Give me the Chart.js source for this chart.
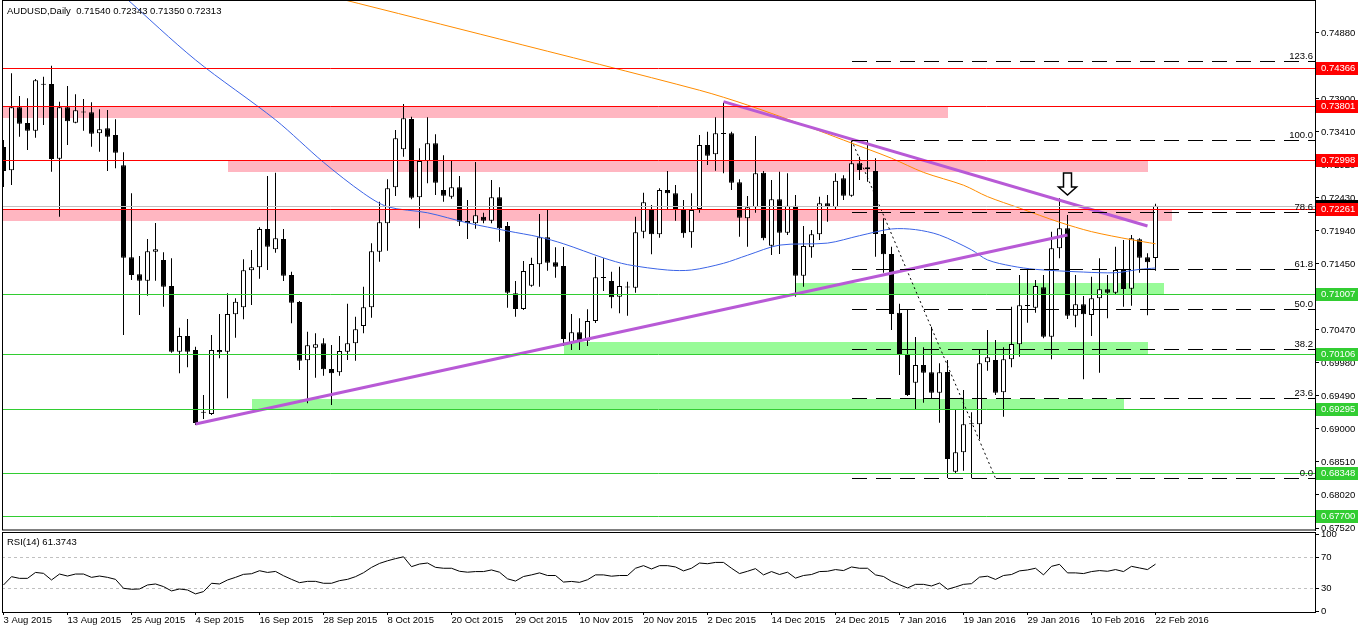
<!DOCTYPE html>
<html><head><meta charset="utf-8">
<script src="https://cdn.jsdelivr.net/npm/chart.js@4.4.1/dist/chart.umd.min.js"></script>
<style>
body{margin:0;background:#fff;width:1358px;height:633px;overflow:hidden;position:relative}
#main{position:absolute;left:0;top:0}
#rsi{position:absolute;left:0;top:526px}
</style></head><body>
<canvas id="main" width="1358" height="531"></canvas>
<canvas id="rsi" width="1358" height="107"></canvas>
<script>
// ---------- DATA ----------
const titleText = "AUDUSD,Daily  0.71540 0.72343 0.71350 0.72313";
const rsiTitle = "RSI(14) 61.3743";
const dateLabels = ["3 Aug 2015","13 Aug 2015","25 Aug 2015","4 Sep 2015","16 Sep 2015","28 Sep 2015","8 Oct 2015","20 Oct 2015","29 Oct 2015","10 Nov 2015","20 Nov 2015","2 Dec 2015","14 Dec 2015","24 Dec 2015","7 Jan 2016","19 Jan 2016","29 Jan 2016","10 Feb 2016","22 Feb 2016"];
const dateLabelIdx = [0,8,16,24,32,40,48,56,64,72,80,88,96,104,112,120,128,136,144];
const priceTicks = [0.74880,0.74390,0.73900,0.73410,0.72920,0.72430,0.71940,0.71450,0.70960,0.70470,0.69980,0.69490,0.69000,0.68510,0.68020,0.67520];
const rsiTicks = [0,30,70,100];

const opens = [0.73187,0.72841,0.73777,0.73543,0.73429,0.74128,0.74123,0.73013,0.73777,0.73548,
0.73712,0.73702,0.73390,0.73465,0.73365,0.72915,0.71549,0.71296,0.71202,0.71632,
0.71509,0.71123,0.70147,0.70380,0.70173,0.69247,0.69222,0.70173,0.70147,0.70703,
0.70807,0.71356,0.71401,0.71969,0.71668,0.71821,0.71286,0.70885,0.70019,0.70207,
0.70272,0.69890,0.69842,0.70147,0.70272,0.70529,0.70807,0.71633,0.72054,0.72589,
0.73153,0.73603,0.72440,0.72979,0.73242,0.72548,0.72449,0.72588,0.72088,0.72054,
0.72153,0.72093,0.72440,0.72014,0.71014,0.70781,0.71128,0.71445,0.71846,0.71475,
0.71420,0.70272,0.70435,0.70311,0.70603,0.71242,0.71197,0.70964,0.71104,0.71098,
0.71930,0.72267,0.71891,0.72549,0.72499,0.72252,0.71920,0.72267,0.73217,0.73078,
0.73390,0.73390,0.72663,0.72128,0.72292,0.72806,0.71719,0.72410,0.71915,0.72316,
0.71276,0.71697,0.71890,0.72351,0.72292,0.72722,0.72464,0.72945,0.72856,0.72831,
0.71895,0.71598,0.70727,0.70098,0.69687,0.69950,0.69841,0.69538,0.69846,0.68366,
0.68653,0.69079,0.69069,0.69990,0.70024,0.69544,0.70034,0.70257,0.70836,0.70801,
0.71104,0.70370,0.71683,0.71980,0.70682,0.70851,0.70692,0.70940,0.71074,0.71024,
0.71360,0.71083,0.71816,0.71549,0.71540];
const highs = [0.73291,0.74282,0.73944,0.73910,0.74197,0.74231,0.74395,0.73860,0.74093,0.73970,
0.73900,0.73851,0.73747,0.73737,0.73598,0.73108,0.72500,0.71568,0.71821,0.72058,
0.71623,0.71534,0.70504,0.70633,0.70222,0.69504,0.70395,0.70707,0.71014,0.70940,
0.71519,0.71658,0.71995,0.72756,0.72806,0.71969,0.71335,0.70900,0.70444,0.70420,
0.70346,0.70247,0.70380,0.70860,0.70667,0.71113,0.71757,0.72375,0.72707,0.73440,
0.73826,0.73637,0.73168,0.73628,0.73376,0.73064,0.72979,0.72756,0.72400,0.72964,
0.72212,0.72697,0.72588,0.72073,0.71197,0.71494,0.71543,0.72192,0.72252,0.71697,
0.71702,0.70707,0.70643,0.70777,0.71559,0.71534,0.71336,0.71410,0.71187,0.72152,
0.72509,0.72326,0.72574,0.72831,0.72623,0.72400,0.72499,0.73366,0.73415,0.73628,
0.73845,0.73415,0.72707,0.72460,0.73350,0.72831,0.72697,0.72820,0.72796,0.72474,
0.72014,0.71955,0.72449,0.72474,0.72796,0.72766,0.73301,0.73043,0.73291,0.73019,
0.72128,0.71707,0.70860,0.70777,0.70366,0.70212,0.70519,0.69975,0.70024,0.69281,
0.69579,0.69247,0.70173,0.70470,0.70321,0.70212,0.70816,0.71286,0.71386,0.71212,
0.71286,0.71929,0.72425,0.72177,0.71286,0.70974,0.71262,0.71534,0.71286,0.71707,
0.71806,0.71880,0.71831,0.71608,0.72343];
const lows = [0.72593,0.72623,0.73340,0.73143,0.73325,0.73514,0.72820,0.72152,0.73217,0.73539,
0.73429,0.73192,0.73117,0.72831,0.72871,0.70395,0.71212,0.70692,0.70979,0.71202,
0.70816,0.70133,0.69827,0.69916,0.69059,0.69148,0.69207,0.70049,0.69455,0.70355,
0.70628,0.70841,0.71232,0.71361,0.71618,0.71197,0.70569,0.69876,0.69381,0.69761,
0.69791,0.69356,0.69791,0.70024,0.70014,0.70420,0.70652,0.71484,0.71647,0.72459,
0.73043,0.72410,0.71980,0.72648,0.72474,0.72375,0.72420,0.72014,0.71821,0.71974,
0.72054,0.72054,0.71781,0.70801,0.70667,0.70766,0.71113,0.71113,0.71351,0.71247,
0.70232,0.70173,0.70173,0.70232,0.70573,0.71049,0.70791,0.70717,0.70682,0.71024,
0.71831,0.71593,0.71841,0.72267,0.72093,0.71841,0.71692,0.72212,0.72920,0.72836,
0.72796,0.72548,0.71855,0.71707,0.72212,0.71801,0.71584,0.71598,0.71880,0.70964,
0.71113,0.71543,0.71806,0.72078,0.72267,0.72400,0.72449,0.72697,0.72672,0.71559,
0.71321,0.70470,0.69801,0.69490,0.69281,0.69390,0.69460,0.69093,0.68272,0.68342,
0.68380,0.68267,0.68850,0.69865,0.69504,0.69182,0.69915,0.70073,0.70578,0.70727,
0.70346,0.70034,0.71534,0.70633,0.70510,0.69737,0.70380,0.69836,0.70643,0.70990,
0.70816,0.70830,0.71321,0.70687,0.71350];
const closes = [0.72831,0.73777,0.73533,0.73429,0.74178,0.74113,0.73009,0.73777,0.73569,0.73732,
0.73700,0.73385,0.73450,0.73340,0.73102,0.71543,0.71286,0.71202,0.71638,0.71668,
0.71113,0.70147,0.70380,0.70147,0.69089,0.69242,0.70173,0.70138,0.70707,0.70890,
0.71356,0.71401,0.71969,0.71707,0.71831,0.71276,0.70875,0.70014,0.70242,0.70257,
0.69886,0.69826,0.70158,0.70272,0.70480,0.70807,0.71638,0.72069,0.72574,0.73316,
0.73613,0.72434,0.72979,0.73242,0.72657,0.72464,0.72588,0.72078,0.72054,0.72173,
0.72093,0.72440,0.71980,0.71024,0.70781,0.71346,0.71450,0.71846,0.71469,0.71410,
0.70336,0.70435,0.70311,0.70603,0.71252,0.71252,0.70955,0.71123,0.71100,0.71920,
0.72366,0.71891,0.72549,0.72499,0.72252,0.71905,0.72252,0.73217,0.73058,0.73390,
0.73380,0.72657,0.72137,0.72292,0.72796,0.71831,0.72410,0.71915,0.72316,0.71276,
0.71717,0.71890,0.72351,0.72301,0.72687,0.72464,0.72945,0.72846,0.72885,0.71895,
0.71593,0.70707,0.70113,0.69504,0.69950,0.69836,0.69538,0.69841,0.68554,0.68653,
0.69069,0.69069,0.69975,0.70064,0.69538,0.70034,0.70262,0.70836,0.70826,0.71123,
0.70370,0.71683,0.71980,0.70682,0.70851,0.70703,0.70940,0.71074,0.71024,0.71360,
0.71078,0.71831,0.71543,0.71475,0.72313];
const rsiValues = [34.3,45.1,42.9,42.9,50.6,49.4,40.8,48.5,45.9,48.5,
48.5,44.2,45.9,44.2,41.6,30.0,28.7,29.1,34.3,35.6,
32.2,26.6,29.1,27.8,22.7,25.7,36.5,35.6,40.8,44.2,
48.1,48.9,52.8,50.6,51.9,46.3,41.6,37.3,39.0,39.0,
36.5,36.5,39.9,41.6,45.1,50.2,57.1,62.3,65.7,68.5,
70.9,58.1,61.5,62.8,57.2,56.0,56.0,52.1,50.9,51.7,
51.7,53.8,50.9,42.3,39.4,45.3,47.4,50.0,46.6,46.6,
38.1,38.9,37.7,41.1,47.4,47.4,45.7,46.6,46.6,56.0,
59.4,55.1,59.4,59.4,57.7,52.6,56.0,62.8,61.9,63.6,
63.6,56.0,49.1,52.1,55.5,47.4,51.7,47.9,50.9,43.2,
46.6,47.9,51.7,52.1,54.3,53.0,57.7,56.0,56.0,47.4,
45.3,38.9,34.7,30.4,35.1,35.1,33.0,36.8,28.7,31.7,
35.1,36.0,44.5,45.7,41.5,46.6,47.9,52.6,53.8,56.0,
47.4,58.5,61.1,50.0,50.0,49.1,51.7,53.0,52.1,54.3,
51.7,58.5,56.4,54.3,61.37];

// moving averages (read at sample candles)
const maBlueIdx = [15,24,34,40,45,48,53,58,63,67,70,75,78,83,86,90,93,97,103,107,111,114,117,121,123,126,129,135,139,142,144];
const maBlueVal = [0.7543,0.7448,0.7359,0.7296,0.7250,0.7230,0.7221,0.7206,0.7194,0.7185,0.7175,0.7154,0.7144,0.7136,0.7136,0.7146,0.7158,0.7173,0.7176,0.7187,0.7197,0.7196,0.7188,0.7166,0.7151,0.7142,0.7137,0.7133,0.7132,0.7137,0.7139];
const maOrangeIdx = [42,62,87,93,101,105,111,115,120,123,127,132,136,141,144];
const maOrangeVal = [0.7539,0.7479,0.7403,0.7381,0.7347,0.7329,0.7302,0.7281,0.7262,0.7245,0.7228,0.7207,0.7193,0.7181,0.7175];

// trend lines [idx1, price1, idx2, price2]
const trendUp = [24, 0.69074, 133, 0.71880];
const trendDown = [90, 0.73860, 143, 0.72014];
const fibDiagonal = [106, 0.73291, 124, 0.68267];

// horizontal levels
const redLevels = [0.74366, 0.73801, 0.72998, 0.72261];
const greenLevels = [0.71007, 0.70106, 0.69295, 0.68348, 0.67700];
const lastPrice = 0.72313;

// zones
const pinkFrom = [null, 28, null];
const pinkTo = [118, 143, 146];
const pinkTop = [0.73801, 0.72998, 0.72261];
const pinkBottom = [0.73622, 0.72820, 0.72093];
const greenFrom = [99, 70, 31];
const greenTo = [145, 143, 140];
const greenTop = [0.71172, 0.70296, 0.69448];
const greenBottom = [0.71007, 0.70106, 0.69295];

// fibonacci
const fibLabels = ["0.0","23.6","38.2","50.0","61.8","78.6","100.0","123.6"];
const fibPrices = [0.68267,0.69453,0.70186,0.70779,0.71372,0.72216,0.73291,0.74460];
const fibStartIdx = 106;

// arrow marker
const arrowIdx = 133;
const arrowTop = 0.72801;
const arrowTip = 0.72474;

// ---------- CHART ----------
const FONT = "'Liberation Sans', Arial, sans-serif";
Chart.defaults.font.family = FONT;
Chart.defaults.font.size = 9.5;
Chart.defaults.color = '#000';
Chart.defaults.animation = false;

const X_MIN = -0.1875, X_MAX = 163.9375;
const Y_MIN = 0.674995, Y_MAX = 0.7535515;

const idx = opens.map((_, i) => i);
const wickData = idx.map(i => ({x: i, y: [lows[i], highs[i]]}));
const bodyData = idx.map(i => ({x: i, y: [opens[i], closes[i]]}));
const bodyColors = idx.map(i => closes[i] >= opens[i] ? '#ffffff' : '#000000');
const seg = a => [{x: a[0], y: a[1]}, {x: a[2], y: a[3]}];

function drawZones(chart) {
  const {ctx, chartArea: a, scales: {x, y}} = chart;
  ctx.save();
  ctx.beginPath(); ctx.rect(a.left, a.top, a.right - a.left, a.bottom - a.top); ctx.clip();
  const zone = (from, to, top, bot, col) => {
    const x1 = from == null ? a.left : Math.round(x.getPixelForValue(from));
    const x2 = Math.round(x.getPixelForValue(to));
    const y1 = Math.round(y.getPixelForValue(top));
    const y2 = Math.round(y.getPixelForValue(bot));
    ctx.fillStyle = col;
    ctx.fillRect(x1, y1, x2 - x1, y2 - y1);
  };
  pinkTop.forEach((t, k) => zone(pinkFrom[k], pinkTo[k], t, pinkBottom[k], '#ffb6c1'));
  greenTop.forEach((t, k) => zone(greenFrom[k], greenTo[k], t, greenBottom[k], '#98fb98'));
  ctx.restore();
}

function hLine(ctx, a, py, color, dash) {
  ctx.save();
  ctx.strokeStyle = color; ctx.lineWidth = 1;
  if (dash) ctx.setLineDash(dash);
  ctx.beginPath(); ctx.moveTo(a.left, py); ctx.lineTo(a.right, py); ctx.stroke();
  ctx.restore();
}

const overlay = {
  id: 'overlay',
  beforeDatasetsDraw(chart) { drawZones(chart); },
  afterDatasetsDraw(chart) {
    const {ctx, chartArea: a, scales: {x, y}} = chart;
    ctx.save();
    ctx.beginPath(); ctx.rect(a.left, a.top, a.right - a.left, a.bottom - a.top); ctx.clip();
    const py = v => Math.round(y.getPixelForValue(v)) + 0.5;
    hLine(ctx, a, py(lastPrice), '#c0c0c0');
    redLevels.forEach(v => hLine(ctx, a, py(v), '#ff0000'));
    greenLevels.forEach(v => hLine(ctx, a, py(v), '#32cd32'));
    // fibonacci levels
    const fx = Math.round(x.getPixelForValue(fibStartIdx));
    ctx.strokeStyle = '#000'; ctx.lineWidth = 1; ctx.setLineDash([15, 9]);
    fibPrices.forEach(v => {
      const yy = py(v);
      ctx.beginPath(); ctx.moveTo(fx, yy); ctx.lineTo(a.right, yy); ctx.stroke();
    });
    ctx.setLineDash([]);
    ctx.fillStyle = '#000'; ctx.font = '9.5px ' + FONT;
    ctx.textAlign = 'right'; ctx.textBaseline = 'alphabetic';
    fibPrices.forEach((v, k) => ctx.fillText(fibLabels[k], a.right - 2, py(v) - 2.5));
    // arrow
    const ax = x.getPixelForValue(arrowIdx);
    const yT = y.getPixelForValue(arrowTop), yP = y.getPixelForValue(arrowTip);
    const yH = yP - 8;
    ctx.beginPath();
    ctx.moveTo(ax - 4, yT); ctx.lineTo(ax + 4, yT); ctx.lineTo(ax + 4, yH);
    ctx.lineTo(ax + 9, yH); ctx.lineTo(ax, yP); ctx.lineTo(ax - 9, yH);
    ctx.lineTo(ax - 4, yH); ctx.closePath();
    ctx.fillStyle = '#fff'; ctx.fill();
    ctx.strokeStyle = '#000'; ctx.lineWidth = 1.5; ctx.stroke();
    ctx.restore();
    // frame
    ctx.save();
    ctx.strokeStyle = '#000'; ctx.lineWidth = 1;
    ctx.strokeRect(a.left + 0.5, a.top - 0.5, a.right - a.left, a.bottom - a.top + 0.5);
    ctx.restore();
  },
  afterDraw(chart) {
    const {ctx, chartArea: a, scales: {y}} = chart;
    ctx.save();
    const W = chart.width;
    const box = (v, col) => {
      const yy = Math.round(y.getPixelForValue(v));
      ctx.fillStyle = col;
      ctx.fillRect(a.right + 1, yy - 6, W - a.right - 1, 13);
      ctx.fillStyle = '#fff'; ctx.font = '9.5px ' + FONT;
      ctx.textAlign = 'left'; ctx.textBaseline = 'middle';
      ctx.fillText(v.toFixed(5), a.right + 6, yy + 0.5);
    };
    box(lastPrice, '#000');
    redLevels.forEach(v => box(v, '#ff0000'));
    greenLevels.forEach(v => box(v, '#32cd32'));
    ctx.fillStyle = '#000'; ctx.font = '9.5px ' + FONT;
    ctx.textAlign = 'left'; ctx.textBaseline = 'alphabetic';
    ctx.fillText(titleText, 7, 14);
    ctx.restore();
  }
};

const mainChart = new Chart(document.getElementById('main'), {
  type: 'bar',
  data: {
    datasets: [
      {type: 'line', data: maBlueIdx.map((v, k) => ({x: v, y: maBlueVal[k]})), borderColor: '#3c64e6', borderWidth: 1, pointRadius: 0, tension: 0.3, order: -2},
      {type: 'line', data: maOrangeIdx.map((v, k) => ({x: v, y: maOrangeVal[k]})), borderColor: '#ff8c00', borderWidth: 1, pointRadius: 0, tension: 0.3, order: -2},
      {type: 'line', data: seg(trendUp), borderColor: '#b85ad6', borderWidth: 3, pointRadius: 0, order: -3},
      {type: 'line', data: seg(trendDown), borderColor: '#b85ad6', borderWidth: 3, pointRadius: 0, order: -3},
      {type: 'line', data: seg(fibDiagonal), borderColor: '#000', borderWidth: 1, borderDash: [2, 3], pointRadius: 0, order: -3},
      {type: 'bar', data: bodyData, backgroundColor: bodyColors, borderColor: '#000', borderWidth: 1, borderSkipped: false, barThickness: 5, minBarLength: 1, grouped: false, inflateAmount: 0, order: 0},
      {type: 'bar', data: wickData, backgroundColor: '#000', borderWidth: 0, barThickness: 1, grouped: false, inflateAmount: 0, order: 1}
    ]
  },
  options: {
    responsive: false,
    devicePixelRatio: 1,
    animation: false,
    events: [],
    layout: {padding: {left: 2, right: 0, top: 1, bottom: 1}},
    plugins: {legend: {display: false}, tooltip: {enabled: false}, title: {display: false}},
    scales: {
      x: {type: 'linear', min: X_MIN, max: X_MAX, bounds: 'data', offset: false, display: false},
      y: {
        type: 'linear', position: 'right', min: Y_MIN, max: Y_MAX, bounds: 'data',
        afterBuildTicks: s => { s.ticks = priceTicks.map(v => ({value: v})); },
        afterFit: s => { s.width = 43; s.paddingTop = 0; s.paddingBottom = 0; },
        ticks: {padding: 2, autoSkip: false, callback: v => Number(v).toFixed(5), font: {size: 9.5}},
        grid: {display: true, drawOnChartArea: false, drawTicks: true, tickLength: 4, color: '#000'},
        border: {display: true, color: '#000', width: 1}
      }
    }
  },
  plugins: [overlay]
});

const rsiOverlay = {
  id: 'rsiOverlay',
  beforeDatasetsDraw(chart) {
    const {ctx, chartArea: a, scales: {y}} = chart;
    [70, 30].forEach(v => hLine(ctx, a, Math.round(y.getPixelForValue(v)) + 0.5, '#c0c0c0', [3, 3]));
  },
  afterDraw(chart) {
    const {ctx, chartArea: a} = chart;
    ctx.save();
    ctx.strokeStyle = '#000'; ctx.lineWidth = 1;
    ctx.strokeRect(a.left + 0.5, a.top - 0.5, a.right - a.left, a.bottom - a.top + 1);
    ctx.fillStyle = '#000'; ctx.font = '9.5px ' + FONT;
    ctx.textAlign = 'left'; ctx.textBaseline = 'alphabetic';
    ctx.fillText(rsiTitle, 7, a.top + 12);
    ctx.restore();
  }
};

const rsiChart = new Chart(document.getElementById('rsi'), {
  type: 'line',
  data: {datasets: [{data: rsiValues.map((v, i) => ({x: i, y: v})), borderColor: '#000', borderWidth: 1, pointRadius: 0, tension: 0}]},
  options: {
    responsive: false,
    devicePixelRatio: 1,
    animation: false,
    events: [],
    layout: {padding: {left: 2, right: 0, top: 7, bottom: 0}},
    plugins: {legend: {display: false}, tooltip: {enabled: false}},
    scales: {
      x: {
        type: 'linear', min: X_MIN, max: X_MAX, bounds: 'data', offset: false, position: 'bottom',
        afterBuildTicks: s => { s.ticks = dateLabelIdx.map(v => ({value: v})); },
        afterFit: s => { s.height = 21; s.paddingLeft = 0; s.paddingRight = 0; },
        ticks: {autoSkip: false, maxRotation: 0, minRotation: 0, align: 'start', padding: 0,
          callback: v => dateLabels[dateLabelIdx.indexOf(v)], font: {size: 9.5}},
        grid: {display: true, drawOnChartArea: false, drawTicks: true, tickLength: 3, color: '#000'},
        border: {display: true, color: '#000'}
      },
      y: {
        type: 'linear', position: 'right', min: -0.8, max: 101.8, bounds: 'data',
        afterBuildTicks: s => { s.ticks = rsiTicks.map(v => ({value: v})); },
        afterFit: s => { s.width = 43; s.paddingTop = 0; s.paddingBottom = 0; },
        ticks: {padding: 2, autoSkip: false, font: {size: 9.5}},
        grid: {display: true, drawOnChartArea: false, drawTicks: true, tickLength: 4, color: '#000'},
        border: {display: true, color: '#000'}
      }
    }
  },
  plugins: [rsiOverlay]
});
</script>
</body></html>
